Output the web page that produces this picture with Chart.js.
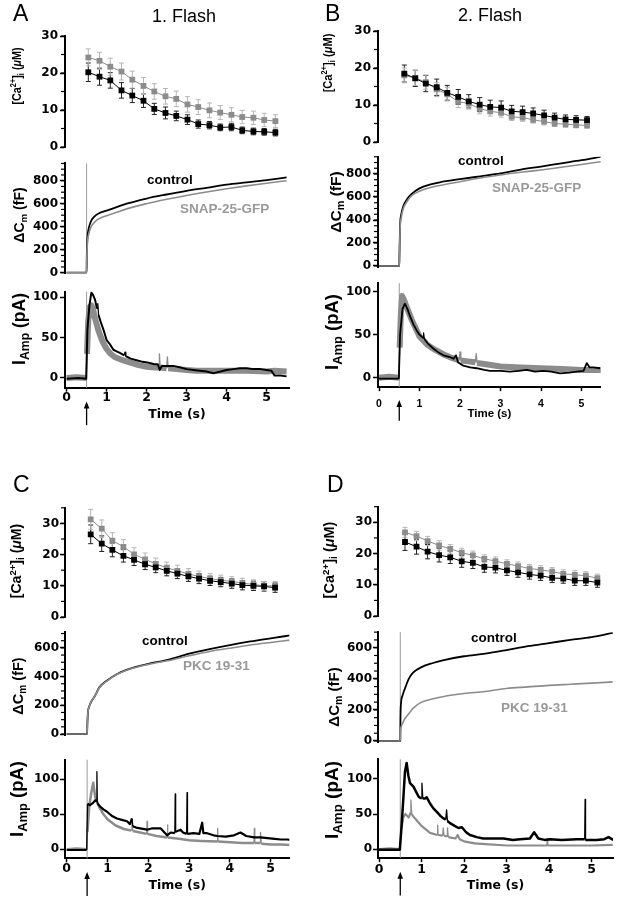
<!DOCTYPE html>
<html lang="en">
<head>
<meta charset="utf-8">
<title>Flash</title>
<script src="https://cdn.jsdelivr.net/npm/chart.js@4.4.1/dist/chart.umd.min.js"></script>
<style>
  html, body { margin: 0; padding: 0; background: #fff; }
  body { position: relative; width: 617px; height: 899px; overflow: hidden; font-family: "Liberation Sans", Arial, sans-serif; color: #000; }
  canvas { position: absolute; }
  .txt { position: absolute; white-space: nowrap; line-height: 1; }
  .ytitle { position: absolute; white-space: nowrap; line-height: 1; font-weight: bold; }
  .sup { font-size: 0.68em; position: relative; top: -0.55em; }
  .sub { font-size: 0.7em; position: relative; top: 0.3em; }
</style>
</head>
<body>
<script>
// Tiempos de las medidas de [Ca2+]i (s)
const caTime = [0.54, 0.82, 1.09, 1.37, 1.64, 1.92, 2.19, 2.47, 2.74, 3.02, 3.29, 3.57, 3.84, 4.12, 4.39, 4.67, 4.94, 5.22];

// [Ca2+]i (uM) y error, control (negro) y prueba (gris)
const caCtrlA = [20.2, 19.0, 18.0, 15.3, 13.9, 12.5, 10.3, 9.2, 8.4, 7.4, 6.2, 5.9, 5.3, 5.4, 4.5, 4.2, 4.1, 3.9];
const caErrCtrlA = [2.5, 2.3, 2.1, 2.1, 1.9, 1.8, 1.5, 1.6, 1.3, 1.3, 1.1, 1.0, 0.9, 1.0, 0.9, 0.9, 0.9, 0.9];
const caTestA = [24.2, 23.3, 21.7, 20.4, 18.2, 16.5, 15.0, 13.7, 13.0, 11.5, 10.8, 9.9, 9.3, 8.7, 8.1, 7.9, 7.3, 7.0];
const caErrTestA = [2.3, 2.3, 2.3, 2.3, 2.3, 2.3, 2.1, 2.1, 2.1, 2.1, 2.0, 2.0, 1.9, 1.9, 1.8, 1.8, 1.8, 1.7];

const caCtrlB = [18.5, 17.2, 15.8, 14.8, 13.3, 12.2, 11.0, 10.1, 9.5, 9.3, 8.3, 8.1, 7.7, 7.2, 6.6, 6.1, 6.0, 5.9];
const caErrCtrlB = [2.3, 2.2, 2.2, 2.2, 2.0, 2.0, 1.8, 1.9, 1.8, 1.8, 1.6, 1.6, 1.5, 1.4, 1.2, 1.2, 1.1, 1.0];
const caTestB = [18.0, 17.3, 16.2, 14.2, 12.9, 10.9, 10.4, 9.0, 8.3, 7.9, 6.8, 6.6, 6.0, 5.5, 5.0, 4.8, 4.6, 4.5];
const caErrTestB = [2.0, 2.0, 1.9, 1.9, 1.8, 1.6, 1.5, 1.4, 1.3, 1.2, 1.0, 1.0, 0.9, 0.9, 0.8, 0.8, 0.8, 0.8];

const caCtrlC = [26.5, 23.5, 21.5, 19.6, 18.3, 16.9, 15.9, 14.8, 13.9, 13.0, 12.3, 11.6, 11.2, 10.7, 10.2, 10.0, 9.8, 9.4];
const caErrCtrlC = [3.0, 2.5, 2.2, 2.0, 1.8, 1.7, 1.7, 1.6, 1.6, 1.6, 1.6, 1.5, 1.5, 1.5, 1.5, 1.5, 1.5, 1.5];
const caTestC = [31.3, 28.3, 24.5, 22.5, 20.1, 18.5, 17.0, 15.8, 14.8, 13.8, 13.0, 12.3, 11.8, 11.4, 10.9, 10.4, 10.0, 10.0];
const caErrTestC = [3.2, 2.8, 2.5, 2.3, 2.1, 2.0, 1.9, 1.8, 1.8, 1.7, 1.7, 1.6, 1.6, 1.5, 1.5, 1.5, 1.4, 1.4];

const caCtrlD = [23.7, 22.2, 20.6, 19.5, 18.8, 17.5, 17.0, 15.7, 15.5, 14.6, 14.0, 13.3, 12.9, 12.2, 12.0, 11.3, 11.3, 10.7];
const caErrCtrlD = [2.7, 2.4, 2.3, 2.2, 2.0, 1.9, 1.8, 1.7, 1.7, 1.6, 1.6, 1.5, 1.5, 1.5, 1.5, 1.5, 1.5, 1.5];
const caTestD = [26.8, 25.6, 24.0, 22.6, 21.5, 20.3, 19.4, 18.3, 17.6, 16.7, 16.0, 15.2, 14.8, 14.2, 13.5, 13.2, 12.9, 12.1];
const caErrTestD = [1.6, 1.5, 1.5, 1.5, 1.4, 1.4, 1.4, 1.3, 1.3, 1.3, 1.3, 1.3, 1.3, 1.3, 1.3, 1.3, 1.3, 1.3];

// Capacidad de membrana (fF)
const cmTime = [0, 0.49, 0.5, 0.505, 0.52, 0.55, 0.6, 0.7, 0.8, 1.0, 1.25, 1.5, 2.0, 2.5, 3.0, 3.5, 4.0, 4.5, 5.0, 5.5];
const cmCtrlA = [0, 0, 0, 150, 300, 380, 440, 490, 515, 540, 570, 600, 645, 680, 712, 738, 765, 785, 805, 828];
const cmTestA = [0, 0, 0, 120, 260, 330, 390, 440, 468, 495, 525, 555, 600, 638, 672, 702, 730, 755, 778, 800];
const cmCtrlB = [0, 0, 0, 100, 350, 450, 520, 585, 625, 675, 708, 728, 755, 780, 805, 838, 865, 893, 920, 952];
const cmTestB = [0, 0, 0, 80, 320, 420, 500, 565, 610, 650, 680, 700, 733, 765, 792, 815, 835, 858, 882, 908];
const cmCtrlC = [0, 0, 0, 60, 150, 190, 225, 270, 325, 375, 420, 450, 488, 518, 560, 592, 620, 645, 667, 688];
const cmTestC = [0, 0, 0, 60, 150, 190, 225, 270, 322, 372, 418, 448, 485, 512, 545, 575, 598, 620, 638, 655];
const cmCtrlD = [0, 0, 0, 150, 250, 290, 330, 400, 440, 475, 500, 518, 545, 562, 585, 610, 630, 650, 668, 695];
const cmTestD = [0, 0, 0, 60, 90, 110, 140, 175, 210, 250, 270, 285, 305, 318, 338, 348, 358, 365, 372, 380];

// Corriente amperométrica (pA)
const ampTimeCtrlA = [0, 0.3, 0.49, 0.52, 0.57, 0.62, 0.66, 0.71, 0.76, 0.78, 0.8, 0.85, 0.92, 1.0, 1.08, 1.17, 1.25, 1.33, 1.44, 1.46, 1.48, 1.6, 1.75, 1.9, 2.05, 2.2, 2.28, 2.33, 2.38, 2.5, 2.67, 2.85, 3.0, 3.17, 3.33, 3.5, 3.67, 3.85, 4.0, 4.17, 4.33, 4.5, 4.67, 4.85, 5.0, 5.12, 5.2, 5.35, 5.5];
const ampCtrlA = [-1, 0, -1, 60, 90, 106, 103, 97, 86, 92, 78, 70, 60, 47, 42, 35, 33, 31, 28, 32, 27, 24, 22, 20, 19, 17, 17, 10, 15, 15, 15, 13, 11, 10, 9, 8, 6, 8, 10, 11, 12, 12, 11, 11, 10, 9, 3, 3, 2];
const ampTimeTestA = [0, 0.25, 0.49, 0.51, 0.54, 0.58, 0.62, 0.66, 0.7, 0.8, 0.9, 1.0, 1.1, 1.2, 1.4, 1.6, 1.8, 2.0, 2.2, 2.31, 2.32, 2.34, 2.5, 2.52, 2.54, 2.75, 3.0, 3.25, 3.5, 4.0, 4.5, 5.0, 5.2, 5.5];
const ampTestA = [0, 1, 0, 30, 70, 88, 90, 86, 76, 58, 45, 36, 30, 26, 22, 19, 16, 14, 13, 13, 30, 13, 12, 26, 12, 11, 10, 9, 9, 9, 9, 8, 9, 8];

const ampTimeCtrlB = [0, 0.49, 0.52, 0.58, 0.64, 0.7, 0.77, 0.85, 0.93, 1.0, 1.09, 1.1, 1.12, 1.2, 1.34, 1.45, 1.59, 1.75, 1.84, 1.9, 1.95, 2.08, 2.25, 2.41, 2.6, 2.74, 3.0, 3.23, 3.45, 3.65, 3.85, 4.06, 4.25, 4.47, 4.7, 4.88, 5.05, 5.13, 5.2, 5.29, 5.46];
const ampCtrlB = [-1, -1, 50, 80, 86, 80, 71, 62, 55, 50, 46, 52, 45, 40, 34, 30, 26, 24, 22, 26, 18, 14, 12, 11, 9, 8, 8, 7, 8, 9, 7, 8, 7, 5, 6, 7, 8, 17, 12, 12, 11];
const ampTimeTestB = [0, 0.25, 0.49, 0.51, 0.54, 0.57, 0.62, 0.7, 0.8, 0.9, 1.0, 1.2, 1.4, 1.6, 1.8, 1.98, 2.0, 2.02, 2.2, 2.38, 2.4, 2.42, 2.6, 3.0, 3.5, 4.0, 4.5, 5.0, 5.5];
const ampTestB = [0, 1, 0, 35, 75, 95, 90, 80, 68, 58, 48, 38, 32, 27, 23, 20, 30, 20, 19, 18, 28, 17, 16, 13, 12, 11, 10, 9, 9];

const ampTimeCtrlC = [0, 0.49, 0.51, 0.57, 0.64, 0.7, 0.73, 0.74, 0.75, 0.82, 0.9, 0.98, 1.1, 1.23, 1.35, 1.48, 1.55, 1.6, 1.62, 1.7, 1.8, 1.97, 2.1, 2.3, 2.46, 2.55, 2.65, 2.66, 2.67, 2.79, 2.85, 2.94, 2.95, 2.96, 3.11, 3.25, 3.32, 3.35, 3.44, 3.6, 3.69, 3.9, 4.1, 4.26, 4.4, 4.59, 4.75, 4.92, 5.1, 5.25, 5.41, 5.5];
const ampCtrlC = [-1, -1, 65, 63, 66, 70, 68, 111, 66, 61, 57, 54, 48, 44, 42, 40, 36, 44, 33, 31, 30, 28, 30, 30, 20, 24, 23, 79, 25, 28, 24, 22, 81, 22, 23, 22, 38, 23, 23, 20, 19, 18, 20, 24, 19, 17, 17, 16, 15, 14, 14, 13];
const ampTimeTestC = [0, 0.25, 0.49, 0.51, 0.55, 0.6, 0.65, 0.7, 0.8, 0.9, 1.0, 1.2, 1.4, 1.58, 1.6, 1.62, 1.8, 1.96, 1.97, 1.98, 2.2, 2.46, 2.47, 2.48, 2.75, 3.0, 3.3, 3.69, 3.7, 3.71, 4.0, 4.3, 4.59, 4.6, 4.61, 4.74, 4.75, 4.77, 5.0, 5.25, 5.5];
const ampTestC = [0, 1, 0, 25, 60, 80, 95, 74, 60, 50, 43, 34, 29, 27, 40, 26, 24, 22, 40, 22, 19, 17, 35, 17, 15, 13, 12, 11, 30, 11, 10, 9, 9, 30, 9, 9, 24, 8, 7, 7, 6];

const ampTimeCtrlD = [0, 0.49, 0.53, 0.57, 0.61, 0.65, 0.69, 0.73, 0.81, 0.87, 0.93, 0.99, 1.01, 1.03, 1.08, 1.12, 1.2, 1.28, 1.36, 1.45, 1.51, 1.57, 1.59, 1.61, 1.67, 1.78, 1.87, 1.95, 2.05, 2.14, 2.3, 2.45, 2.7, 2.93, 3.15, 3.32, 3.55, 3.65, 3.75, 3.9, 4.02, 4.3, 4.65, 4.84, 4.85, 4.86, 5.12, 5.3, 5.4, 5.51];
const ampCtrlD = [-1, -1, 32, 70, 110, 123, 105, 94, 89, 82, 75, 72, 94, 72, 72, 74, 65, 58, 53, 47, 44, 42, 56, 40, 37, 33, 30, 31, 24, 20, 17, 15, 15, 15, 13, 14, 15, 24, 15, 13, 14, 13, 14, 14, 71, 13, 13, 14, 17, 13];
const ampTimeTestD = [0, 0.25, 0.49, 0.51, 0.53, 0.57, 0.62, 0.7, 0.74, 0.75, 0.77, 0.8, 0.9, 1.0, 1.1, 1.2, 1.37, 1.38, 1.39, 1.5, 1.51, 1.53, 1.6, 1.61, 1.63, 1.8, 1.85, 1.9, 2.0, 2.25, 2.5, 3.0, 3.5, 3.95, 3.96, 3.97, 4.5, 5.0, 5.5];
const ampTestD = [0, 1, 0, 20, 30, 45, 50, 45, 52, 70, 50, 47, 40, 33, 28, 23, 20, 34, 20, 19, 30, 19, 18, 30, 17, 15, 20, 14, 11, 8, 7, 5, 5, 5, 15, 5, 5, 5, 6];

// Marcas de los ejes
const caTicks = [0, 10, 20, 30];
const cmTicksAB = [0, 200, 400, 600, 800];
const cmTicksCD = [0, 200, 400, 600];
const ampTicks = [0, 50, 100];
const timeTicks = [0, 1, 2, 3, 4, 5];
const flashTime = 0.5;

const BLACK = '#000000';
const GRAY = '#8c8c8c';
const GRAY_TEXT = '#999999';

// Marcas menores del eje y
const minorTicks = {
  id: 'minorTicks',
  afterDraw(chart, args, opts) {
    if (!opts.step) return;
    const y = chart.scales.y;
    const ctx = chart.ctx;
    const x0 = chart.chartArea.left - 1;
    ctx.save();
    ctx.strokeStyle = BLACK;
    ctx.lineWidth = 1.2;
    for (let v = Math.ceil(y.min / opts.step) * opts.step; v <= y.max + 1e-9; v += opts.step) {
      const p = y.getPixelForValue(v);
      ctx.beginPath();
      ctx.moveTo(x0, p);
      ctx.lineTo(x0 - 3, p);
      ctx.stroke();
    }
    ctx.restore();
  }
};

// Barras de error (SEM)
const errorBars = {
  id: 'errorBars',
  beforeDatasetsDraw(chart) {
    const ctx = chart.ctx;
    const x = chart.scales.x, y = chart.scales.y;
    chart.data.datasets.forEach(ds => {
      if (!ds.errors) return;
      ctx.save();
      ctx.strokeStyle = ds.errorColor;
      ctx.lineWidth = 1;
      ds.data.forEach((p, i) => {
        const px = x.getPixelForValue(p.x);
        const y1 = y.getPixelForValue(p.y - ds.errors[i]);
        const y2 = y.getPixelForValue(p.y + ds.errors[i]);
        ctx.beginPath();
        ctx.moveTo(px, y1); ctx.lineTo(px, y2);
        ctx.moveTo(px - 2.5, y1); ctx.lineTo(px + 2.5, y1);
        ctx.moveTo(px - 2.5, y2); ctx.lineTo(px + 2.5, y2);
        ctx.stroke();
      });
      ctx.restore();
    });
  }
};

// Artefacto del flash (línea vertical gris)
const flashLine = {
  id: 'flashLine',
  beforeDatasetsDraw(chart, args, opts) {
    if (opts.t === undefined) return;
    const ctx = chart.ctx;
    const px = chart.scales.x.getPixelForValue(opts.t);
    const y1 = opts.from === undefined ? chart.chartArea.bottom : chart.scales.y.getPixelForValue(opts.from);
    ctx.save();
    ctx.strokeStyle = '#9a9a9a';
    ctx.lineWidth = 1;
    ctx.beginPath();
    ctx.moveTo(px, y1);
    ctx.lineTo(px, chart.chartArea.top);
    ctx.stroke();
    ctx.restore();
  }
};

// Flecha bajo el eje de tiempo
const flashArrow = {
  id: 'flashArrow',
  afterDraw(chart, args, opts) {
    if (opts.t === undefined) return;
    const ctx = chart.ctx;
    const px = chart.scales.x.getPixelForValue(opts.t);
    const yTip = chart.chartArea.bottom + opts.tip;
    const yTail = chart.chartArea.bottom + opts.tail;
    ctx.save();
    ctx.strokeStyle = BLACK;
    ctx.fillStyle = BLACK;
    ctx.lineWidth = 1.3;
    ctx.beginPath();
    ctx.moveTo(px, yTail);
    ctx.lineTo(px, yTip + 5);
    ctx.stroke();
    ctx.beginPath();
    ctx.moveTo(px, yTip);
    ctx.lineTo(px - 2.8, yTip + 7);
    ctx.lineTo(px + 2.8, yTip + 7);
    ctx.closePath();
    ctx.fill();
    ctx.restore();
  }
};

Chart.register(minorTicks, errorBars, flashLine, flashArrow);

function pts(t, v) {
  return t.map((x, i) => ({x: x, y: v[i]}));
}

function trace(t, v, color, width, smooth) {
  return {
    data: pts(t, v), borderColor: color, borderWidth: width, pointRadius: 0, fill: false,
    tension: 0, cubicInterpolationMode: smooth ? 'monotone' : 'default', borderJoinStyle: 'round',
    // los picos breves se dibujan finos
    segment: smooth ? undefined : {
      borderWidth: c => (c.p1.parsed.x - c.p0.parsed.x < 0.025 ? Math.min(width, 1.3) : undefined)
    }
  };
}

function caSeries(v, err, color, errColor) {
  return {
    data: pts(caTime, v), errors: err, errorColor: errColor,
    borderColor: color, backgroundColor: color, borderWidth: 1,
    pointStyle: 'rect', pointRadius: 4.1, pointBorderWidth: 0, fill: false
  };
}

function makeChart(spec) {
  const a = spec.area;
  const ax = spec.axis;
  const left = Math.floor(a.l - 55);
  const top = Math.floor(a.t - 12);
  const right = Math.ceil(a.r + 12);
  const yWidth = a.l - left;
  let xHeight = 0, bottom;
  if (ax) {
    xHeight = ax.titleOffset + ax.titleFont.size / 2;
    bottom = Math.ceil(a.b + Math.max(xHeight, ax.arrowTail) + 4);
  } else {
    bottom = Math.ceil(a.b + 12);
  }

  const canvas = document.createElement('canvas');
  canvas.width = right - left;
  canvas.height = bottom - top;
  canvas.style.left = left + 'px';
  canvas.style.top = top + 'px';
  document.body.appendChild(canvas);

  return new Chart(canvas.getContext('2d'), {
    type: 'line',
    data: { datasets: spec.datasets },
    options: {
      responsive: false,
      animation: false,
      events: [],
      layout: { padding: { left: 0, top: a.t - top, right: right - a.r, bottom: bottom - a.b - xHeight } },
      plugins: {
        legend: { display: false },
        tooltip: { enabled: false },
        minorTicks: { step: spec.minor || 0 },
        flashLine: spec.flash || {},
        flashArrow: ax ? { t: flashTime, tip: ax.arrowTip, tail: ax.arrowTail } : {}
      },
      scales: {
        x: {
          type: 'linear',
          min: spec.x[0],
          max: spec.x[1],
          display: !!ax,
          afterBuildTicks: s => { s.ticks = (ax ? timeTicks : []).map(v => ({ value: v })); },
          afterFit: s => { s.height = xHeight; },
          border: { display: true, color: BLACK, width: 2 },
          grid: { drawOnChartArea: false, tickLength: 4, tickWidth: 1.5, tickColor: BLACK },
          ticks: { color: BLACK, autoSkip: false, maxRotation: 0, padding: ax ? ax.tickPad : 0,
                   font: ax ? ax.tickFont : undefined },
          title: { display: !!ax, text: 'Time (s)', color: BLACK, padding: 0,
                   font: ax ? ax.titleFont : undefined }
        },
        y: {
          type: 'linear',
          min: spec.y[0],
          max: spec.y[1],
          afterBuildTicks: s => { s.ticks = spec.yTicks.map(v => ({ value: v })); },
          afterFit: s => { s.width = yWidth; },
          border: { display: true, color: BLACK, width: 2 },
          grid: { drawOnChartArea: false, tickLength: 5, tickWidth: 1.5, tickColor: BLACK },
          ticks: { color: BLACK, autoSkip: false, padding: spec.yPad === undefined ? 2 : spec.yPad,
                   font: { family: 'DejaVu Sans', size: 12, weight: 'bold', lineHeight: 1 } }
        }
      }
    }
  });
}

function addText(html, x, capTop, size, style) {
  const el = document.createElement('div');
  el.className = 'txt';
  el.innerHTML = html;
  el.style.left = x + 'px';
  el.style.top = (capTop - 0.13 * size) + 'px';
  el.style.fontSize = size + 'px';
  Object.assign(el.style, style || {});
  document.body.appendChild(el);
}

function addYTitle(html, cx, cy, size, sx) {
  const el = document.createElement('div');
  el.className = 'ytitle';
  el.innerHTML = html;
  el.style.left = cx + 'px';
  el.style.top = cy + 'px';
  el.style.fontSize = size + 'px';
  el.style.transform = 'translate(-50%, -50%) rotate(-90deg) scaleX(' + sx + ')';
  document.body.appendChild(el);
}

document.addEventListener('DOMContentLoaded', function() {
  const axisWide = {
    tickFont: { family: 'DejaVu Sans', size: 12.5, weight: 'bold', lineHeight: 1 },
    titleFont: { family: 'DejaVu Sans', size: 12.5, weight: 'bold', lineHeight: 1 },
    tickPad: 0, titleOffset: 27, arrowTip: 13.7, arrowTail: 37.5
  };
  const axisB = {
    tickFont: { family: 'Liberation Sans', size: 10.5, weight: 'bold', lineHeight: 1 },
    titleFont: { family: 'Liberation Sans', size: 11.5, weight: 'bold', lineHeight: 1 },
    tickPad: 8, titleOffset: 26.3, arrowTip: 12.8, arrowTail: 33.5
  };
  const axisD = Object.assign({}, axisWide, { tickPad: 1, titleOffset: 27.7 });

  // Panel A
  makeChart({ area: { l: 65, t: 36, r: 289, b: 147 }, x: [-0.043, 5.56], y: [0, 30], yTicks: caTicks, minor: 5,
    datasets: [caSeries(caCtrlA, caErrCtrlA, BLACK, '#222'), caSeries(caTestA, caErrTestA, GRAY, '#b5b5b5')] });
  makeChart({ area: { l: 65, t: 163.45, r: 289, b: 273.85 }, x: [-0.04, 5.56], y: [-10, 950], yTicks: cmTicksAB, minor: 50,
    flash: { t: flashTime, from: 0 },
    datasets: [trace(cmTime, cmTestA, GRAY, 1.6, true), trace(cmTime, cmCtrlA, BLACK, 1.8, true)] });
  makeChart({ area: { l: 65, t: 291.65, r: 289, b: 387.68 }, x: [-0.04, 5.56], y: [-12, 107], yTicks: ampTicks,
    flash: { t: flashTime }, axis: axisWide,
    datasets: [trace(ampTimeCtrlA, ampCtrlA, BLACK, 2, false), trace(ampTimeTestA, ampTestA, GRAY, 6, false)] });

  // Panel B
  makeChart({ area: { l: 378, t: 31, r: 600.7, b: 142 }, x: [-0.134, 5.57], y: [0, 30], yTicks: caTicks, minor: 5,
    datasets: [caSeries(caCtrlB, caErrCtrlB, BLACK, '#222'), caSeries(caTestB, caErrTestB, GRAY, '#b5b5b5')] });
  makeChart({ area: { l: 378, t: 156.75, r: 600.7, b: 267.15 }, x: [-0.025, 5.474], y: [-10, 950], yTicks: cmTicksAB, minor: 50,
    datasets: [trace(cmTime, cmTestB, GRAY, 1.6, true), trace(cmTime, cmCtrlB, BLACK, 1.8, true)] });
  makeChart({ area: { l: 378, t: 283.1, r: 600.7, b: 387.16 }, x: [-0.025, 5.474], y: [-11, 110], yTicks: ampTicks,
    flash: { t: flashTime }, axis: axisB,
    datasets: [trace(ampTimeCtrlB, ampCtrlB, BLACK, 1.8, false), trace(ampTimeTestB, ampTestB, GRAY, 6, false)] });

  // Panel C
  makeChart({ area: { l: 65, t: 507.8, r: 289.3, b: 617 }, x: [-0.112, 5.58], y: [0, 35], yTicks: caTicks, minor: 5, yPad: 1,
    datasets: [caSeries(caCtrlC, caErrCtrlC, BLACK, '#222'), caSeries(caTestC, caErrTestC, GRAY, '#b5b5b5')] });
  makeChart({ area: { l: 65, t: 632.1, r: 289.3, b: 735.15 }, x: [-0.042, 5.456], y: [-8, 710], yTicks: cmTicksCD, minor: 50, yPad: 1,
    datasets: [trace(cmTime, cmTestC, GRAY, 1.6, true), trace(cmTime, cmCtrlC, BLACK, 1.8, true)] });
  makeChart({ area: { l: 65, t: 759.7, r: 289.3, b: 858.4 }, x: [-0.042, 5.456], y: [-13, 128], yTicks: ampTicks, yPad: 1,
    flash: { t: flashTime }, axis: axisWide,
    datasets: [trace(ampTimeCtrlC, ampCtrlC, BLACK, 2.2, false), trace(ampTimeTestC, ampTestC, GRAY, 2.5, false)] });

  // Panel D
  makeChart({ area: { l: 378, t: 506.7, r: 613, b: 616 }, x: [-0.117, 5.6], y: [0, 35], yTicks: caTicks, minor: 5, yPad: 1,
    datasets: [caSeries(caCtrlD, caErrCtrlD, BLACK, '#222'), caSeries(caTestD, caErrTestD, GRAY, '#b5b5b5')] });
  makeChart({ area: { l: 378, t: 632.15, r: 613, b: 742.24 }, x: [-0.024, 5.506], y: [-8, 700], yTicks: cmTicksCD, minor: 50, yPad: 1,
    flash: { t: flashTime, from: 0 },
    datasets: [trace(cmTime, cmTestD, GRAY, 1.6, true), trace(cmTime, cmCtrlD, BLACK, 1.8, true)] });
  makeChart({ area: { l: 378, t: 759.4, r: 613, b: 858.1 }, x: [-0.024, 5.506], y: [-13, 128], yTicks: ampTicks, yPad: 1,
    flash: { t: flashTime }, axis: axisD,
    datasets: [trace(ampTimeCtrlD, ampCtrlD, BLACK, 2.5, false), trace(ampTimeTestD, ampTestD, GRAY, 2.2, false)] });

  // Letras de panel y títulos
  addText('A', 13, 5, 23);
  addText('B', 325, 5, 23);
  addText('C', 13, 476, 23);
  addText('D', 327, 476, 23);
  addText('1. Flash', 152, 9.5, 18);
  addText('2. Flash', 458, 8.5, 18);

  // Etiquetas de las curvas
  const bold = { fontWeight: 'bold' };
  const boldGray = { fontWeight: 'bold', color: GRAY_TEXT };
  addText('control', 147, 175, 13.5, bold);
  addText('SNAP-25-GFP', 180, 203.3, 13.5, boldGray);
  addText('control', 458, 156, 13.5, bold);
  addText('SNAP-25-GFP', 492, 183, 13.5, boldGray);
  addText('control', 142, 636, 13.5, bold);
  addText('PKC 19-31', 183, 661, 13.5, boldGray);
  addText('control', 471, 633, 13.5, bold);
  addText('PKC 19-31', 501, 703, 13.5, boldGray);

  // Títulos de los ejes y
  const caLabel = '[Ca<span class="sup">2+</span>]<span class="sub">i</span> (<i>μ</i>M)';
  const cmLabel = 'ΔC<span class="sub">m</span> (fF)';
  const ampLabel = 'I<span class="sub">Amp</span> (pA)';
  addYTitle(caLabel, 17, 76, 13.5, 0.8);
  addYTitle(caLabel, 328, 63, 13.5, 0.82);
  addYTitle(caLabel, 16, 561, 14.5, 0.97);
  addYTitle(caLabel, 329, 560, 14.5, 1.0);
  addYTitle(cmLabel, 19, 215, 14, 1);
  addYTitle(cmLabel, 336, 202, 15.5, 1);
  addYTitle(cmLabel, 18, 686, 14.5, 1);
  addYTitle(cmLabel, 333, 697, 15, 1);
  addYTitle(ampLabel, 20, 329, 17.5, 1);
  addYTitle(ampLabel, 332, 332, 18.5, 1);
  addYTitle(ampLabel, 17, 799, 18.5, 1);
  addYTitle(ampLabel, 331, 800, 19, 1);
});
</script>
</body>
</html>
